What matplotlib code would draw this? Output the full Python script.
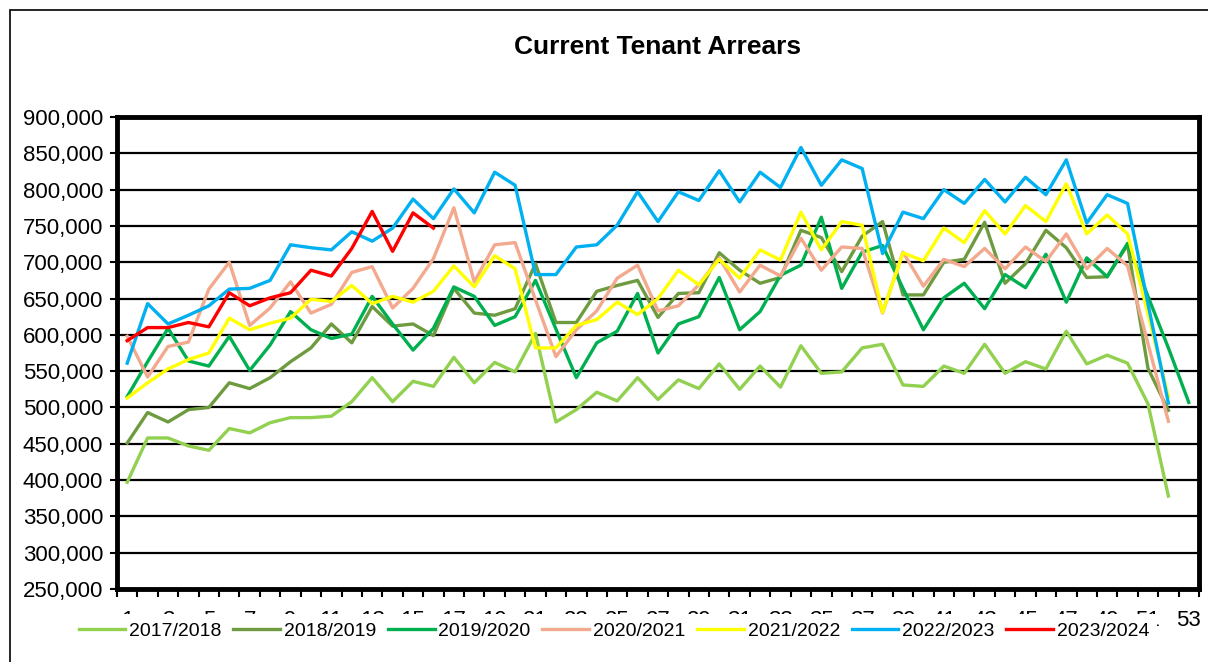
import matplotlib.pyplot as plt
from matplotlib.ticker import FuncFormatter
from matplotlib.patches import Rectangle

plt.rcParams['font.family'] = ['Liberation Sans', 'DejaVu Sans']

# weekly arrears figures, one list per financial year
weeks = list(range(1, 54))

arrears_1718 = [397000, 458000, 458000, 447000, 441000, 471000, 465000, 479000, 486000, 486000,
                488000, 508000, 541000, 508000, 536000, 529000, 569000, 534000, 562000, 549000,
                602000, 480000, 497000, 521000, 509000, 541000, 511000, 538000, 526000, 560000,
                525000, 557000, 528000, 585000, 547000, 549000, 582000, 587000, 531000, 529000,
                557000, 547000, 587000, 547000, 563000, 553000, 605000, 560000, 572000, 561000,
                505000, 378000]

arrears_1819 = [451000, 493000, 480000, 497000, 500000, 534000, 526000, 541000, 563000, 582000,
                615000, 589000, 639000, 612000, 615000, 599000, 664000, 630000, 627000, 636000,
                698000, 617000, 617000, 660000, 668000, 675000, 624000, 657000, 658000, 713000,
                689000, 671000, 679000, 744000, 734000, 687000, 736000, 756000, 655000, 655000,
                700000, 704000, 755000, 671000, 698000, 744000, 720000, 679000, 680000, 724000,
                554000, 496000]

arrears_1920 = [515000, 563000, 609000, 564000, 557000, 598000, 551000, 586000, 632000, 607000,
                595000, 601000, 653000, 615000, 579000, 609000, 666000, 653000, 613000, 625000,
                675000, 608000, 541000, 589000, 605000, 657000, 575000, 615000, 625000, 679000,
                607000, 632000, 682000, 696000, 762000, 664000, 714000, 723000, 664000, 607000,
                651000, 671000, 636000, 683000, 665000, 711000, 645000, 706000, 680000, 726000,
                653000, 582000, 507000]

arrears_2021 = [598000, 542000, 584000, 590000, 663000, 700000, 613000, 637000, 673000, 630000,
                642000, 686000, 694000, 637000, 664000, 705000, 775000, 673000, 724000, 727000,
                648000, 570000, 607000, 633000, 678000, 696000, 633000, 640000, 669000, 706000,
                659000, 696000, 681000, 733000, 689000, 721000, 719000, 630000, 714000, 667000,
                704000, 694000, 719000, 691000, 721000, 701000, 739000, 691000, 719000, 695000,
                588000, 481000]

arrears_2122 = [513000, 534000, 553000, 566000, 575000, 623000, 607000, 616000, 623000, 649000,
                646000, 668000, 643000, 653000, 645000, 660000, 695000, 666000, 709000, 691000,
                582000, 582000, 613000, 621000, 645000, 628000, 650000, 689000, 669000, 704000,
                678000, 717000, 703000, 769000, 717000, 756000, 751000, 631000, 713000, 702000,
                747000, 727000, 771000, 739000, 778000, 756000, 808000, 739000, 765000, 739000,
                629000, 515000]

arrears_2223 = [561000, 643000, 615000, 627000, 640000, 663000, 664000, 675000, 724000, 720000,
                717000, 742000, 729000, 747000, 787000, 760000, 801000, 768000, 824000, 806000,
                683000, 683000, 721000, 724000, 751000, 797000, 756000, 797000, 785000, 826000,
                783000, 824000, 803000, 858000, 806000, 841000, 829000, 712000, 769000, 760000,
                800000, 781000, 814000, 783000, 817000, 793000, 841000, 754000, 793000, 781000,
                643000, 506000]

arrears_2324 = [592000, 610000, 610000, 617000, 611000, 658000, 640000, 651000, 658000, 689000,
                681000, 719000, 770000, 715000, 768000, 747000]

years = ["2017/2018", "2018/2019", "2019/2020", "2020/2021", "2021/2022", "2022/2023", "2023/2024"]
colours = ["#92D050", "#6E9B3F", "#00B050", "#F2A98E", "#FFFF00", "#00B0F0", "#FF0000"]
all_arrears = [arrears_1718, arrears_1819, arrears_1920, arrears_2021,
               arrears_2122, arrears_2223, arrears_2324]

fig = plt.figure(figsize=(12.08, 6.62), dpi=100)
ax = fig.add_axes([117 / 1208, 1 - 589 / 662, (1199 - 117) / 1208, (589 - 117) / 662])

for year, vals, colour in zip(years, all_arrears, colours):
    ax.plot(weeks[:len(vals)], vals, color=colour, lw=2.4, label=year)

ax.set_xlim(0.5, 53.5)
ax.set_ylim(250000, 900000)
ax.set_yticks(range(250000, 900001, 50000))
ax.yaxis.set_major_formatter(FuncFormatter(lambda v, p: f"{v:,.0f}"))
ax.grid(axis='y', color='black', lw=1.6)
ax.set_axisbelow(True)

# labels on odd weeks, tick marks between weeks
ax.set_xticks(range(1, 54, 2))
ax.set_xticks([w + 0.5 for w in range(0, 54)], minor=True)
ax.tick_params(axis='x', which='major', length=0, pad=15, labelsize=16)
ax.tick_params(axis='x', which='minor', length=6, width=1.5, direction='out')
ax.tick_params(axis='y', length=5, width=1.5, labelsize=16, pad=5)
for spine in ax.spines.values():
    spine.set_linewidth(3.5)

fig.text(658 / 1208, 1 - 47 / 662, "Current Tenant Arrears", ha='center', va='center',
         fontsize=19, fontweight='bold')

fig.legend(loc='center', bbox_to_anchor=(614 / 1208, 1 - 631 / 662), ncol=7, fontsize=14,
           frameon=True, facecolor='white', edgecolor='none', framealpha=1, fancybox=False,
           handlelength=2.4, handletextpad=0.2, columnspacing=0.6, borderpad=0.4)

# outer frame round the chart
fig.add_artist(Rectangle((10 / 1208, -0.05), 1.1, 1 - 10 / 662 + 0.05,
                         transform=fig.transFigure, fill=False, lw=1.2, ec='black'))

plt.savefig('out.png', dpi=100)
